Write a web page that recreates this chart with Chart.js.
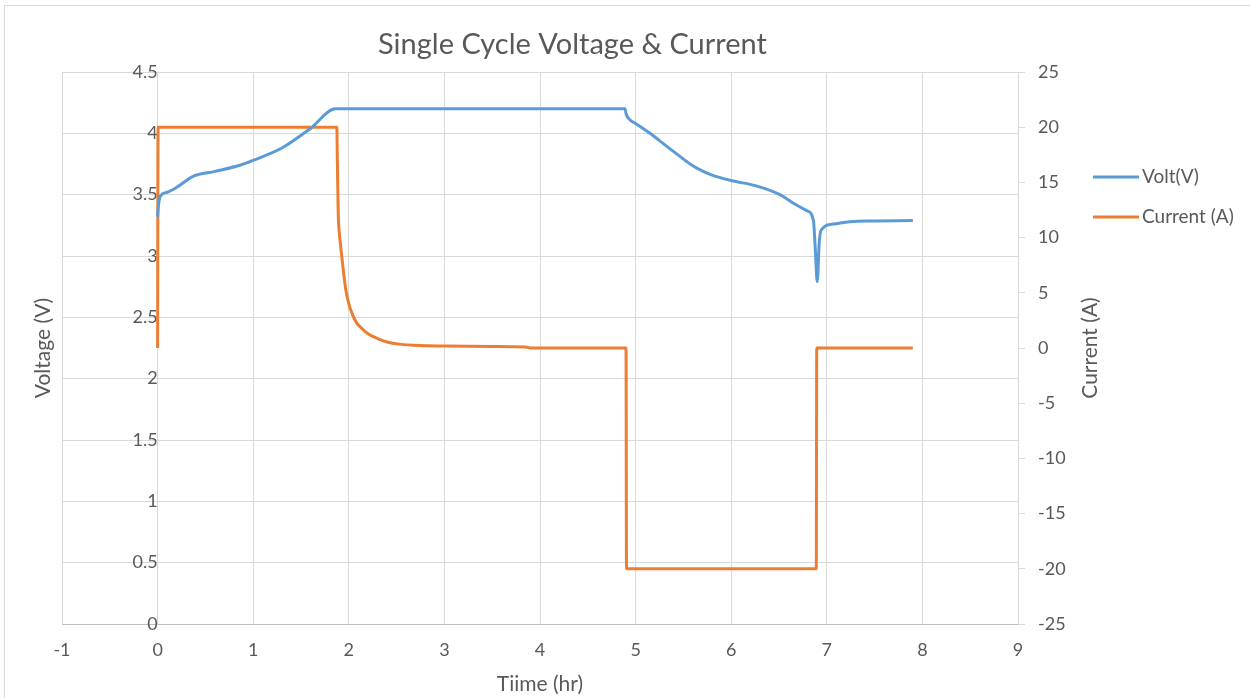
<!DOCTYPE html>
<html>
<head>
<meta charset="utf-8">
<script src="https://cdn.jsdelivr.net/npm/chart.js@4"></script>
<style>
  html, body { margin: 0; padding: 0; background: #fff; }
  #wrap { width: 1250px; height: 698px; }
</style>
</head>
<body>
<div id="wrap"><canvas id="myChart" width="1250" height="698"></canvas></div>
<script>
const timeV = [0, 0.01, 0.03, 0.1, 0.2, 0.37, 0.6, 0.86, 1.0, 1.3, 1.6, 1.86, 3.0, 3.9, 4.89,
  4.9, 4.94, 5.0, 5.15, 5.3, 5.45, 5.57, 5.68, 5.8, 6.0, 6.27, 6.51, 6.65, 6.79, 6.86, 6.88, 6.9,
  6.92, 6.94, 7.07, 7.24, 7.5, 7.9]
const volt = [3.32, 3.42, 3.49, 3.52, 3.56, 3.65, 3.69, 3.74, 3.78, 3.88, 4.04, 4.2, 4.2, 4.2, 4.2,
  4.16, 4.11, 4.08, 4.0, 3.91, 3.82, 3.75, 3.7, 3.66, 3.615, 3.57, 3.5, 3.43, 3.37, 3.29, 3.05, 2.79,
  3.1, 3.21, 3.26, 3.28, 3.285, 3.29]

const timeI = [0, 0.005, 1.875, 1.88, 1.885, 1.89, 1.9, 1.915, 1.93, 1.95, 1.97, 2.0, 2.04, 2.08,
  2.12, 2.2, 2.29, 2.4, 2.53, 2.74, 3.0, 3.5, 3.85, 3.9, 4.9, 4.905, 6.89, 6.895, 7.9]
const current = [0, 20, 20, 17, 14.5, 12, 10.5, 9.2, 8.0, 6.5, 5.2, 4.0, 3.0, 2.3,
  1.9, 1.3, 0.9, 0.55, 0.35, 0.22, 0.18, 0.14, 0.1, 0, 0, -20, -20, 0, 0]

const xTicks = [-1, 0, 1, 2, 3, 4, 5, 6, 7, 8, 9]

const FONT = 'Lato, "Open Sans", sans-serif'
const TEXT = '#595959'
const GRID = '#d9d9d9'
const BLUE = '#5b9bd5'
const ORANGE = '#ed7d31'

const extras = {
  id: 'extras',
  afterDraw(chart) {
    const ctx = chart.ctx
    const area = chart.chartArea
    ctx.save()
    // outer frame
    ctx.strokeStyle = GRID
    ctx.lineWidth = 1
    ctx.strokeRect(4.5, 5.5, 1300, 720)
    // axis titles
    ctx.fillStyle = TEXT
    ctx.font = '21px ' + FONT
    ctx.textAlign = 'center'
    ctx.textBaseline = 'middle'
    ctx.save()
    ctx.translate(43, (area.top + area.bottom) / 2)
    ctx.rotate(-Math.PI / 2)
    ctx.fillText('Voltage (V)', 0, 0)
    ctx.restore()
    ctx.save()
    ctx.translate(1090, (area.top + area.bottom) / 2)
    ctx.rotate(-Math.PI / 2)
    ctx.fillText('Current (A)', 0, 0)
    ctx.restore()
    // legend
    ctx.font = '19px ' + FONT
    ctx.textAlign = 'left'
    chart.data.datasets.forEach((ds, i) => {
      const y = 177 + i * 40
      ctx.strokeStyle = ds.borderColor
      ctx.lineWidth = 3
      ctx.beginPath()
      ctx.moveTo(1093, y)
      ctx.lineTo(1139, y)
      ctx.stroke()
      ctx.fillText(ds.label, 1142, y)
    })
    ctx.restore()
  }
}

new Chart(document.getElementById('myChart').getContext('2d'), {
  type: 'line',
  data: {
    datasets: [
      {
        label: 'Volt(V)',
        data: timeV.map((t, i) => ({ x: t, y: volt[i] })),
        borderColor: BLUE,
        borderWidth: 3,
        pointRadius: 0,
        cubicInterpolationMode: 'monotone',
        yAxisID: 'y',
      },
      {
        label: 'Current (A)',
        data: timeI.map((t, i) => ({ x: t, y: current[i] })),
        borderColor: ORANGE,
        borderWidth: 3,
        pointRadius: 0,
        cubicInterpolationMode: 'monotone',
        yAxisID: 'y1',
      },
    ],
  },
  options: {
    responsive: false,
    animation: false,
    layout: { padding: { left: 62, right: 167, top: 15, bottom: 1 } },
    plugins: {
      legend: { display: false },
      tooltip: { enabled: false },
      title: {
        display: true,
        text: 'Single Cycle Voltage & Current',
        color: TEXT,
        font: { family: FONT, size: 29, weight: 'normal' },
        padding: { top: 12.6, bottom: 9.6 },
      },
    },
    scales: {
      x: {
        type: 'linear',
        min: -1,
        max: 9,
        afterBuildTicks: (s) => { s.ticks = xTicks.map((v) => ({ value: v })) },
        afterFit: (s) => { s.height = 73 },
        grid: { color: GRID, drawTicks: false },
        border: { color: '#bfbfbf' },
        ticks: { color: TEXT, font: { family: FONT, size: 18 }, padding: 15, maxRotation: 0 },
        title: {
          display: true,
          text: 'Tiime (hr)',
          color: TEXT,
          font: { family: FONT, size: 21 },
          padding: { top: 0, bottom: 0 },
        },
      },
      y: {
        position: { x: 0 },
        min: 0,
        max: 4.5,
        ticks: {
          stepSize: 0.5,
          color: TEXT,
          font: { family: FONT, size: 18 },
          padding: 20,
          callback: (v) => String(v),
        },
        grid: { color: GRID, drawTicks: false },
        border: { color: GRID },
      },
      y1: {
        position: 'right',
        min: -25,
        max: 25,
        afterFit: (s) => { s.width = 65 },
        ticks: { stepSize: 5, color: TEXT, font: { family: FONT, size: 18 }, padding: 13, crossAlign: 'near' },
        grid: { drawOnChartArea: false, color: GRID, tickLength: 7 },
        border: { color: GRID },
      },
    },
  },
  plugins: [extras],
})
</script>
</body>
</html>
